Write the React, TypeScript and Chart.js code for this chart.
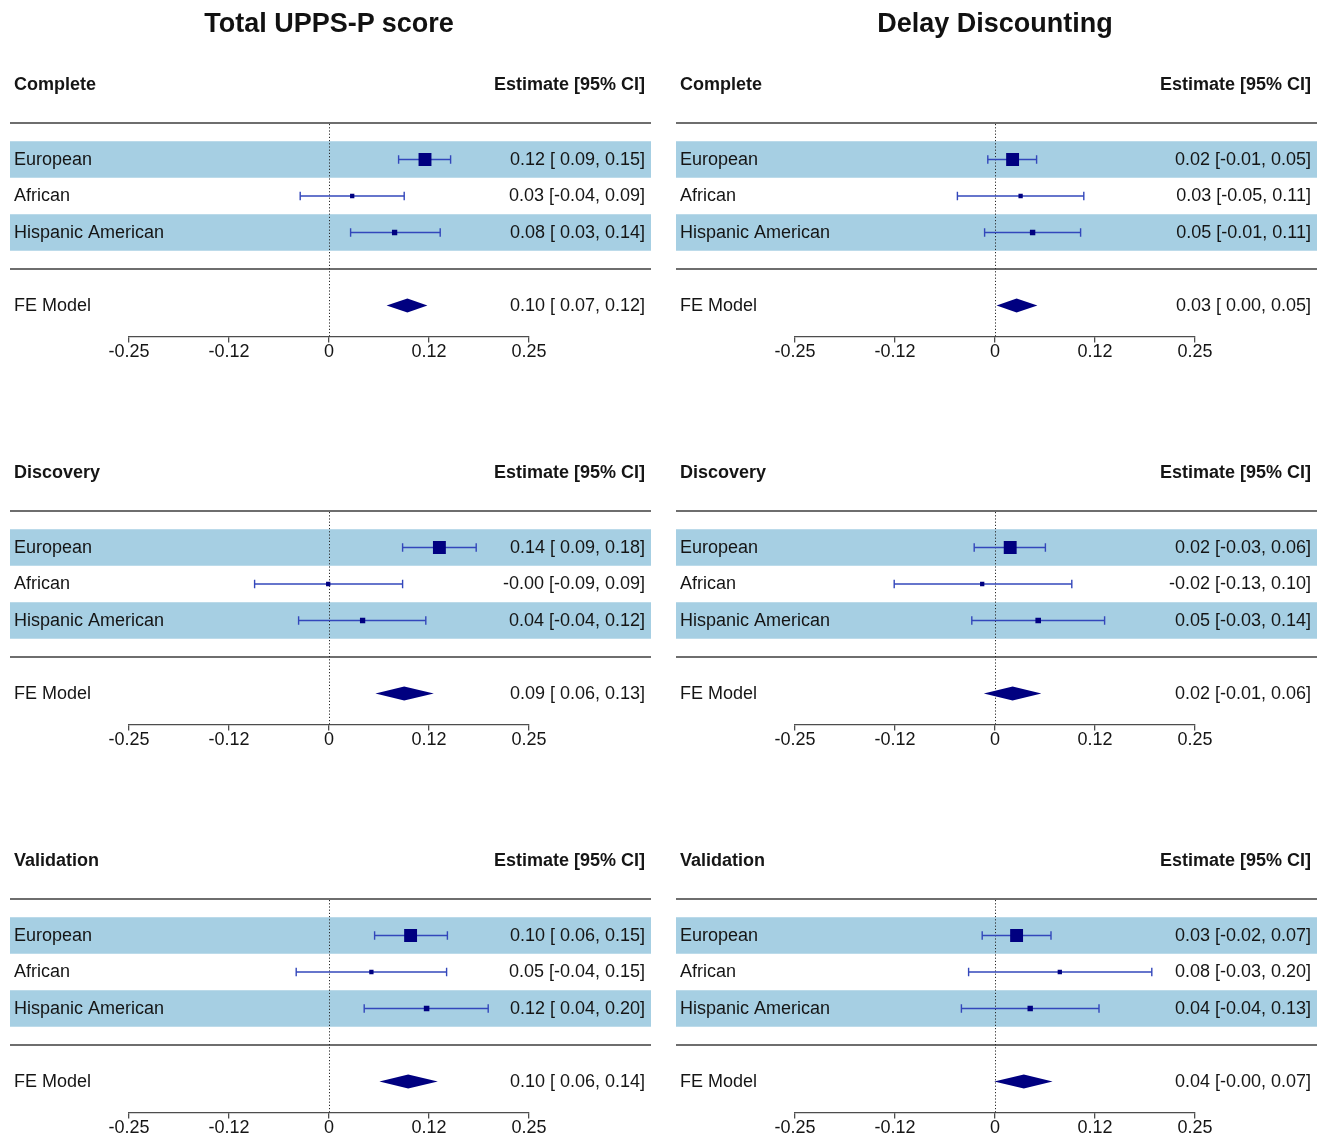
import React, { useEffect, useRef } from "react";
import { Chart, registerables } from "chart.js";

Chart.register(...registerables);

// ---------------- data ----------------
const outcomes = ["Total UPPS-P score", "Delay Discounting"];
const samples = ["Complete", "Discovery", "Validation"];
const groups = ["European", "African", "Hispanic American"];
const pooledLabel = "FE Model";
const estimateHeader = "Estimate [95% CI]";
const tickValues = [-0.25, -0.125, 0, 0.125, 0.25];
const tickLabels = ["-0.25", "-0.12", "0", "0.12", "0.25"];

// Total UPPS-P score
const uppsCompleteEst = [0.12, 0.029, 0.082];
const uppsCompleteLo = [0.087, -0.036, 0.027];
const uppsCompleteHi = [0.152, 0.094, 0.139];
const uppsCompleteFE = [0.098, 0.072, 0.123]; // estimate, lower, upper

const uppsDiscoveryEst = [0.138, -0.001, 0.042];
const uppsDiscoveryLo = [0.092, -0.093, -0.038];
const uppsDiscoveryHi = [0.184, 0.092, 0.121];
const uppsDiscoveryFE = [0.094, 0.058, 0.131];

const uppsValidationEst = [0.102, 0.053, 0.122];
const uppsValidationLo = [0.057, -0.041, 0.044];
const uppsValidationHi = [0.148, 0.147, 0.199];
const uppsValidationFE = [0.099, 0.063, 0.136];

// Delay Discounting
const ddCompleteEst = [0.022, 0.032, 0.047];
const ddCompleteLo = [-0.009, -0.047, -0.013];
const ddCompleteHi = [0.052, 0.111, 0.107];
const ddCompleteFE = [0.027, 0.002, 0.053];

const ddDiscoveryEst = [0.019, -0.016, 0.054];
const ddDiscoveryLo = [-0.026, -0.126, -0.029];
const ddDiscoveryHi = [0.063, 0.096, 0.137];
const ddDiscoveryFE = [0.022, -0.014, 0.058];

const ddValidationEst = [0.027, 0.081, 0.044];
const ddValidationLo = [-0.016, -0.033, -0.042];
const ddValidationHi = [0.07, 0.196, 0.13];
const ddValidationFE = [0.036, -0.001, 0.072];

type PanelData = { est: number[]; lo: number[]; hi: number[]; fe: number[] };

const panelGrid: PanelData[][] = [
  [
    { est: uppsCompleteEst, lo: uppsCompleteLo, hi: uppsCompleteHi, fe: uppsCompleteFE },
    { est: uppsDiscoveryEst, lo: uppsDiscoveryLo, hi: uppsDiscoveryHi, fe: uppsDiscoveryFE },
    { est: uppsValidationEst, lo: uppsValidationLo, hi: uppsValidationHi, fe: uppsValidationFE },
  ],
  [
    { est: ddCompleteEst, lo: ddCompleteLo, hi: ddCompleteHi, fe: ddCompleteFE },
    { est: ddDiscoveryEst, lo: ddDiscoveryLo, hi: ddDiscoveryHi, fe: ddDiscoveryFE },
    { est: ddValidationEst, lo: ddValidationLo, hi: ddValidationHi, fe: ddValidationFE },
  ],
];

// ---------------- styling / layout ----------------
const FONT = '"Liberation Sans", Arial, Helvetica, sans-serif';
const TEXT = "#151515";
const NAVY = "#000080";
const CI_COLOR = "#3347bb";
const BAND = "#a6cfe3";
const RULE = "#6e6e6e";
const AXIS = "#4d4d4d";

const ROW_Y = [3, 2, 1];
const FE_Y = -1;
const HEADER_Y = 5.03;
const Y_MIN = -1.85;
const Y_MAX = 4;

const PANEL_H = 364;
const ROW_STEP = 388;
const COL_STEP = 666;
const AXIS_LEFT = 129;
const AXIS_RIGHT = 529;
const BAND_LEFT = 10;
const BAND_RIGHT = 651;
const TEXT_LEFT = 14;
const TEXT_RIGHT = 645;

const fmt = (v: number) => v.toFixed(2);
const fmtLo = (v: number) => {
  const s = fmt(v);
  return s.startsWith("-") ? s : " " + s;
};
const ciText = (e: number, lo: number, hi: number) => `${fmt(e)} [${fmtLo(lo)}, ${fmt(hi)}]`;

function Panel({ data, sample, left, top, width }: { data: PanelData; sample: string; left: number; top: number; width: number }) {
  const ref = useRef<HTMLCanvasElement>(null);

  useEffect(() => {
    const canvas = ref.current;
    if (!canvas) return;

    // metafor-style square sizes from inverse-variance weights
    const w = data.lo.map((lo, i) => {
      const se = (data.hi[i] - lo) / 3.92;
      return 1 / (se * se);
    });
    const sum = w.reduce((a, b) => a + b, 0);
    const ps = w.map((v) => v / sum);
    const mn = Math.min(...ps);
    const mx = Math.max(...ps);
    const psize = ps.map((p) => (mx - mn > 1e-9 ? (p - mn) / (mx - mn) + 0.5 : 1));
    const radii = psize.map((p) => (p * 8.6) / Math.SQRT2);

    const capPoints: { x: number; y: number }[] = [];
    data.lo.forEach((lo, i) => {
      capPoints.push({ x: lo, y: ROW_Y[i] });
      capPoints.push({ x: data.hi[i], y: ROW_Y[i] });
    });

    const datasets: any[] = [
      {
        label: "estimates",
        data: data.est.map((e, i) => ({ x: e, y: ROW_Y[i] })),
        pointStyle: "rect",
        pointRadius: radii,
        pointBackgroundColor: NAVY,
        pointBorderWidth: 0,
        showLine: false,
      },
      {
        label: "caps",
        data: capPoints,
        pointStyle: "line",
        pointRotation: 90,
        pointRadius: 4.2,
        pointBorderColor: CI_COLOR,
        pointBorderWidth: 1.4,
        showLine: false,
      },
      ...data.lo.map((lo, i) => ({
        label: "ci" + i,
        data: [
          { x: lo, y: ROW_Y[i] },
          { x: data.hi[i], y: ROW_Y[i] },
        ],
        showLine: true,
        borderColor: CI_COLOR,
        borderWidth: 1.4,
        pointRadius: 0,
      })),
    ];

    const forestPlugin = {
      id: "forest",
      beforeDatasetsDraw(chart: any) {
        const { ctx, chartArea, scales } = chart;
        const x = scales.x;
        const y = scales.y;
        ctx.save();
        // zebra bands
        ctx.fillStyle = BAND;
        [0, 2].forEach((i) => {
          const t = y.getPixelForValue(ROW_Y[i] + 0.5);
          const b = y.getPixelForValue(ROW_Y[i] - 0.5);
          ctx.fillRect(BAND_LEFT, t, BAND_RIGHT - BAND_LEFT, b - t);
        });
        // horizontal rules
        ctx.strokeStyle = RULE;
        ctx.lineWidth = 2;
        [Y_MAX, 0].forEach((v) => {
          const py = Math.round(y.getPixelForValue(v));
          ctx.beginPath();
          ctx.moveTo(BAND_LEFT, py);
          ctx.lineTo(BAND_RIGHT, py);
          ctx.stroke();
        });
        // dotted zero line
        const x0 = Math.round(x.getPixelForValue(0)) + 0.5;
        ctx.strokeStyle = "#2a2a2a";
        ctx.lineWidth = 1;
        ctx.setLineDash([1.2, 2]);
        ctx.beginPath();
        ctx.moveTo(x0, y.getPixelForValue(Y_MAX) + 1);
        ctx.lineTo(x0, chartArea.bottom);
        ctx.stroke();
        ctx.restore();
      },
      afterDatasetsDraw(chart: any) {
        const { ctx, scales } = chart;
        const x = scales.x;
        const y = scales.y;
        ctx.save();
        // pooled diamond
        const [fe, feLo, feHi] = data.fe;
        const yc = y.getPixelForValue(FE_Y);
        ctx.fillStyle = NAVY;
        ctx.beginPath();
        ctx.moveTo(x.getPixelForValue(feLo), yc);
        ctx.lineTo(x.getPixelForValue(fe), yc - 7);
        ctx.lineTo(x.getPixelForValue(feHi), yc);
        ctx.lineTo(x.getPixelForValue(fe), yc + 7);
        ctx.closePath();
        ctx.fill();

        // texts
        ctx.fillStyle = TEXT;
        ctx.textBaseline = "middle";
        const hy = y.getPixelForValue(HEADER_Y);
        ctx.font = `bold 18px ${FONT}`;
        ctx.textAlign = "left";
        ctx.fillText(sample, TEXT_LEFT, hy);
        ctx.textAlign = "right";
        ctx.fillText(estimateHeader, TEXT_RIGHT, hy);

        ctx.font = `18px ${FONT}`;
        groups.forEach((g, i) => {
          const py = y.getPixelForValue(ROW_Y[i]) + 0.5;
          ctx.textAlign = "left";
          ctx.fillText(g, TEXT_LEFT, py);
          ctx.textAlign = "right";
          ctx.fillText(ciText(data.est[i], data.lo[i], data.hi[i]), TEXT_RIGHT, py);
        });
        ctx.textAlign = "left";
        ctx.fillText(pooledLabel, TEXT_LEFT, yc + 0.5);
        ctx.textAlign = "right";
        ctx.fillText(ciText(fe, feLo, feHi), TEXT_RIGHT, yc + 0.5);
        ctx.restore();
      },
    };

    const chart = new Chart(canvas, {
      type: "scatter",
      data: { datasets },
      options: {
        responsive: false,
        animation: false,
        events: [],
        layout: { padding: { left: AXIS_LEFT, right: width - AXIS_RIGHT, top: 123, bottom: 1.5 } },
        plugins: {
          legend: { display: false },
          tooltip: { enabled: false },
        },
        scales: {
          x: {
            type: "linear",
            position: "bottom",
            min: -0.25,
            max: 0.25,
            afterBuildTicks: (s: any) => {
              s.ticks = tickValues.map((v) => ({ value: v }));
            },
            ticks: {
              autoSkip: false,
              maxRotation: 0,
              minRotation: 0,
              padding: 1,
              color: TEXT,
              font: { family: FONT, size: 18, lineHeight: 1 },
              callback: (_v: any, i: number) => tickLabels[i],
            },
            grid: {
              display: true,
              drawOnChartArea: false,
              drawTicks: true,
              tickLength: 6,
              color: AXIS,
              lineWidth: 1.3,
            },
            border: { display: true, color: AXIS, width: 1.3 },
          },
          y: { type: "linear", min: Y_MIN, max: Y_MAX, display: false },
        },
      } as any,
      plugins: [forestPlugin],
    });
    return () => chart.destroy();
  }, [data, sample, width]);

  return (
    <canvas
      ref={ref}
      width={width}
      height={PANEL_H}
      style={{ position: "absolute", left, top, width, height: PANEL_H, display: "block" }}
    />
  );
}

export default function App() {
  return (
    <div
      style={{
        position: "absolute",
        left: 0,
        top: 0,
        width: 1325,
        height: 1140,
        background: "#ffffff",
        overflow: "hidden",
      }}
    >
      {panelGrid.map((col, j) =>
        col.map((d, i) => (
          <Panel
            key={`${j}-${i}`}
            data={d}
            sample={samples[i]}
            left={j * COL_STEP}
            top={i * ROW_STEP}
            width={j === 0 ? 662 : 659}
          />
        ))
      )}
      {outcomes.map((t, j) => (
        <div
          key={t}
          style={{
            position: "absolute",
            left: 329 + j * COL_STEP - 250,
            top: 8,
            width: 500,
            textAlign: "center",
            fontFamily: FONT,
            fontWeight: "bold",
            fontSize: 27,
            lineHeight: "30px",
            color: "#111111",
          }}
        >
          {t}
        </div>
      ))}
    </div>
  );
}
